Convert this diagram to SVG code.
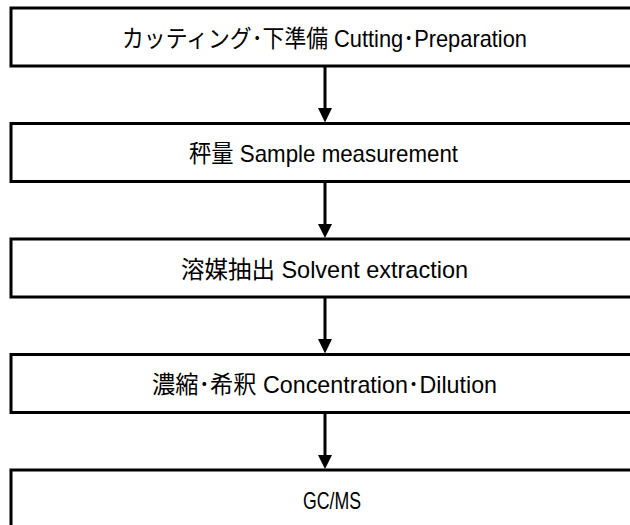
<svg xmlns="http://www.w3.org/2000/svg" width="630" height="525" viewBox="0 0 630 525">
<defs>
<style>
.box{fill:#fff;stroke:#000;stroke-width:3}
.lbl{font-family:"Liberation Sans","Noto Sans CJK JP",sans-serif;font-size:24px;fill:#000;text-anchor:middle}
.conn line{stroke:#000;stroke-width:3}
.conn path{fill:#000}
</style>
</defs>
<rect width="630" height="525" fill="#fff"/>
<g id="n1"><rect class="box" x="11" y="8" width="640" height="58"/><text class="lbl" x="324.5" y="46.5" textLength="405" lengthAdjust="spacingAndGlyphs">カッティング･下準備 Cutting･Preparation</text></g>
<g id="n2"><rect class="box" x="11" y="123.5" width="640" height="58"/><text class="lbl" x="323.5" y="162" textLength="269" lengthAdjust="spacingAndGlyphs">秤量 Sample measurement</text></g>
<g id="n3"><rect class="box" x="11" y="239" width="640" height="58"/><text class="lbl" x="324.5" y="277.5" textLength="287" lengthAdjust="spacingAndGlyphs">溶媒抽出 Solvent extraction</text></g>
<g id="n4"><rect class="box" x="11" y="354.5" width="640" height="58"/><text class="lbl" x="324.5" y="393" textLength="345" lengthAdjust="spacingAndGlyphs">濃縮･希釈 Concentration･Dilution</text></g>
<g id="n5"><rect class="box" x="11" y="470" width="640" height="58"/><text class="lbl" x="332" y="508.5" textLength="58" lengthAdjust="spacingAndGlyphs">GC/MS</text></g>
<g class="conn" id="connectors">
<line x1="325" y1="66" x2="325" y2="110"/><path d="M318 108 L332 108 L325 122.5 Z"/>
<line x1="325" y1="181.5" x2="325" y2="226"/><path d="M318 224 L332 224 L325 238 Z"/>
<line x1="325" y1="297" x2="325" y2="341"/><path d="M318 339 L332 339 L325 353.5 Z"/>
<line x1="325" y1="412.5" x2="325" y2="457"/><path d="M318 455 L332 455 L325 469 Z"/>
</g>
</svg>
